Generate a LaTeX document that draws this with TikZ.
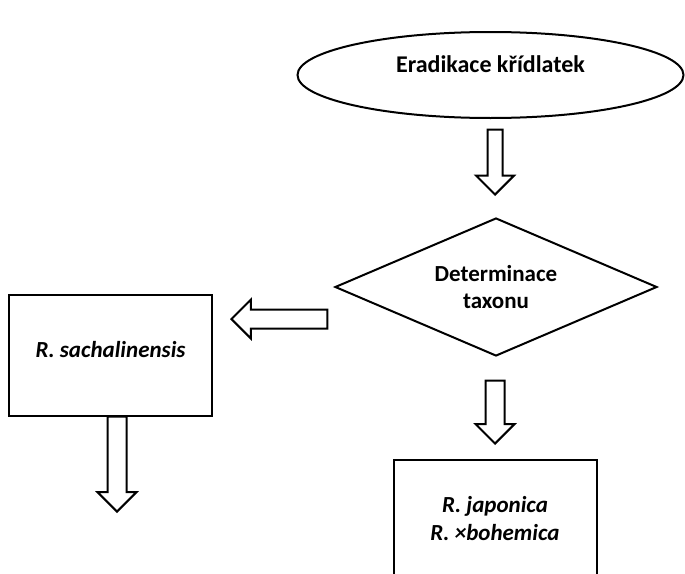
\documentclass[tikz,border=0pt]{standalone}
\usepackage{fontspec}
\setmainfont{Carlito}
\usetikzlibrary{shapes.geometric, shapes.arrows, calc}

\begin{document}
\begin{tikzpicture}[x=0.5pt, y=-0.5pt,
		txt/.style={font=\fontsize{11.5}{13.5}\selectfont\bfseries},
		species/.style={font=\fontsize{11.5}{14}\selectfont\bfseries\itshape},
		box/.style={draw, line width=1pt, minimum width=101.5pt, inner sep=0pt},
		hollowarrow/.style={draw, line width=1pt, single arrow, single arrow head extend=5pt, inner xsep=0pt, inner ysep=4.25pt}]
		\useasboundingbox (0,0) rectangle (685,573);

		\node[draw, ellipse, line width=1pt, minimum width=193pt, minimum height=43pt, text depth=11pt, font=\fontsize{12}{14}\selectfont\bfseries] (erad) at (490.5,75) {Eradikace křídlatek};
		\node[draw, diamond, line width=1pt, aspect=2.33, minimum width=161pt, minimum height=69pt, inner sep=0pt, align=center, txt] (taxon) at (496,287) {Determinace\\taxonu};

		\node[box, minimum height=60.5pt, text depth=6pt, species] (sach) at (110.5,355.5) {R. sachalinensis};
		\node[box, minimum height=70pt, anchor=north] (japboh) at (495,459) {};
		\node[align=center, species] (japtxt) at ($(japboh.north)+(0,60)$) {R. japonica\\R. ×bohemica};

		\coordinate (sachout) at (117,513);

		% hollow arrows
		\node[hollowarrow, inner ysep=3.25pt, single arrow head extend=5.75pt, minimum height=32.5pt, rotate=-90, anchor=tip] (a1) at ($(taxon.north)+(-1,-21)$) {};
		\node[hollowarrow, minimum height=48pt, rotate=180, anchor=tip] (a2) at ($(sach.north east)+(17,25)$) {};
		\node[hollowarrow, minimum height=47.5pt, rotate=-90, anchor=tip] (a3) at (sachout) {};
		\node[hollowarrow, minimum height=31.5pt, rotate=-90, anchor=tip] (a4) at ($(japboh.north)+(0,-14)$) {};

	\end{tikzpicture}
\end{document}
